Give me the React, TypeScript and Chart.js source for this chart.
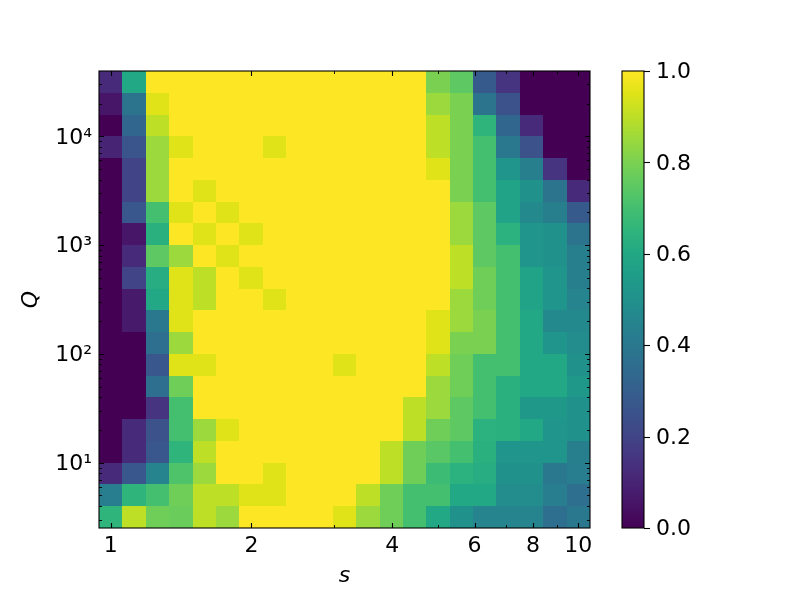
import React, { useEffect, useRef } from 'react';
import { Chart, registerables } from 'chart.js';

Chart.register(...registerables);

// s (x) cell centres, Q (y) cell centres
const sValues = [1.0, 1.122, 1.259, 1.413, 1.585, 1.778, 1.995, 2.239, 2.512, 2.818, 3.162, 3.548, 3.981, 4.467, 5.012, 5.623, 6.31, 7.079, 7.943, 8.913, 10.0];
const qValues = [3.162, 5.012, 7.943, 12.59, 19.95, 31.62, 50.12, 79.43, 125.9, 199.5, 316.2, 501.2, 794.3, 1259, 1995, 3162, 5012, 7943, 12589, 19953, 31623];

// fraction[k][i] : value at Q = qValues[k], s = sValues[i]
const fraction: number[][] = [
  [0.65, 0.9, 0.78, 0.77, 0.9, 0.85, 1, 1, 1, 1, 0.95, 0.85, 0.78, 0.7, 0.6, 0.5, 0.45, 0.45, 0.45, 0.36, 0.4],
  [0.42, 0.65, 0.7, 0.78, 0.9, 0.9, 0.95, 0.95, 1, 1, 1, 0.9, 0.78, 0.7, 0.7, 0.6, 0.6, 0.48, 0.48, 0.42, 0.36],
  [0.12, 0.27, 0.45, 0.72, 0.85, 1, 1, 0.95, 1, 1, 1, 1, 0.9, 0.78, 0.68, 0.64, 0.62, 0.5, 0.5, 0.4, 0.42],
  [0, 0.12, 0.27, 0.65, 0.9, 1, 1, 1, 1, 1, 1, 1, 0.9, 0.78, 0.74, 0.7, 0.63, 0.52, 0.52, 0.52, 0.43],
  [0, 0.12, 0.25, 0.7, 0.85, 0.95, 1, 1, 1, 1, 1, 1, 1, 0.9, 0.78, 0.75, 0.64, 0.63, 0.6, 0.52, 0.5],
  [0, 0, 0.15, 0.7, 1, 1, 1, 1, 1, 1, 1, 1, 1, 0.9, 0.85, 0.75, 0.7, 0.63, 0.53, 0.53, 0.5],
  [0, 0, 0.36, 0.78, 1, 1, 1, 1, 1, 1, 1, 1, 1, 1, 0.85, 0.78, 0.7, 0.63, 0.6, 0.6, 0.53],
  [0, 0, 0.27, 0.95, 0.95, 1, 1, 1, 1, 1, 0.95, 1, 1, 1, 0.9, 0.78, 0.7, 0.7, 0.6, 0.6, 0.5],
  [0, 0, 0.36, 0.85, 1, 1, 1, 1, 1, 1, 1, 1, 1, 1, 0.95, 0.8, 0.8, 0.7, 0.6, 0.52, 0.48],
  [0, 0.07, 0.4, 0.95, 1, 1, 1, 1, 1, 1, 1, 1, 1, 1, 0.95, 0.85, 0.8, 0.7, 0.6, 0.47, 0.47],
  [0, 0.07, 0.6, 0.95, 0.9, 1, 1, 0.95, 1, 1, 1, 1, 1, 1, 1, 0.85, 0.78, 0.7, 0.58, 0.52, 0.45],
  [0, 0.2, 0.62, 0.95, 0.9, 1, 0.95, 1, 1, 1, 1, 1, 1, 1, 1, 0.9, 0.78, 0.7, 0.58, 0.52, 0.43],
  [0, 0.12, 0.75, 0.85, 1, 0.95, 1, 1, 1, 1, 1, 1, 1, 1, 1, 0.9, 0.75, 0.7, 0.52, 0.5, 0.43],
  [0, 0.06, 0.63, 1, 0.95, 1, 0.95, 1, 1, 1, 1, 1, 1, 1, 1, 0.85, 0.75, 0.64, 0.52, 0.5, 0.38],
  [0, 0.27, 0.7, 0.95, 1, 0.95, 1, 1, 1, 1, 1, 1, 1, 1, 1, 0.85, 0.75, 0.58, 0.47, 0.43, 0.28],
  [0, 0.2, 0.85, 1, 0.95, 1, 1, 1, 1, 1, 1, 1, 1, 1, 1, 0.8, 0.7, 0.58, 0.5, 0.38, 0.12],
  [0, 0.2, 0.85, 1, 1, 1, 1, 1, 1, 1, 1, 1, 1, 1, 0.95, 0.8, 0.7, 0.52, 0.43, 0.15, 0],
  [0.1, 0.26, 0.85, 0.95, 1, 1, 1, 0.95, 1, 1, 1, 1, 1, 1, 0.9, 0.8, 0.7, 0.4, 0.25, 0, 0],
  [0, 0.33, 0.9, 1, 1, 1, 1, 1, 1, 1, 1, 1, 1, 1, 0.9, 0.8, 0.65, 0.33, 0.12, 0, 0],
  [0.06, 0.38, 0.95, 1, 1, 1, 1, 1, 1, 1, 1, 1, 1, 1, 0.85, 0.8, 0.38, 0.25, 0, 0, 0],
  [0.12, 0.6, 1, 1, 1, 1, 1, 1, 1, 1, 1, 1, 1, 1, 0.8, 0.75, 0.28, 0.15, 0, 0, 0],
];

const sTicks = [1, 2, 4, 6, 8, 10];
const sTickLabels = ['1', '2', '4', '6', '8', '10'];
const sMinorTicks = [3, 5, 7, 9];
const qTicks = [10, 100, 1000, 10000];
const qTickLabels = ['10¹', '10²', '10³', '10⁴'];
const qMinorTicks = [3, 4, 5, 6, 7, 8, 9, 20, 30, 40, 50, 60, 70, 80, 90, 200, 300, 400, 500, 600, 700, 800, 900, 2000, 3000, 4000, 5000, 6000, 7000, 8000, 9000, 20000, 30000];
const cbTicks = [0, 0.2, 0.4, 0.6, 0.8, 1.0];
const cbTickLabels = ['0.0', '0.2', '0.4', '0.6', '0.8', '1.0'];

const VIRIDIS = ['#440154', '#471365', '#482475', '#463480', '#414487', '#3b528b', '#355f8d', '#2f6c8e', '#2a788e', '#25848e', '#21918c', '#1e9c89', '#22a884', '#2fb47c', '#44bf70', '#5ec962', '#7ad151', '#9bd93c', '#bddf26', '#dfe318', '#fde725'];

function hexToRgb(h: string) {
  return [parseInt(h.slice(1, 3), 16), parseInt(h.slice(3, 5), 16), parseInt(h.slice(5, 7), 16)];
}
function viridis(t: number) {
  const v = Math.max(0, Math.min(1, t)) * (VIRIDIS.length - 1);
  const i = Math.min(Math.floor(v), VIRIDIS.length - 2);
  const f = v - i;
  const a = hexToRgb(VIRIDIS[i]);
  const b = hexToRgb(VIRIDIS[i + 1]);
  const c = a.map((x, j) => Math.round(x + (b[j] - x) * f));
  return `rgb(${c[0]},${c[1]},${c[2]})`;
}

function edges(v: number[]) {
  const e: number[] = [];
  const n = v.length;
  for (let i = 0; i <= n; i++) {
    if (i === 0) e.push((v[0] * v[0]) / Math.sqrt(v[0] * v[1]));
    else if (i === n) e.push((v[n - 1] * v[n - 1]) / Math.sqrt(v[n - 2] * v[n - 1]));
    else e.push(Math.sqrt(v[i - 1] * v[i]));
  }
  return e;
}

const FONT = "'DejaVu Sans', sans-serif";

const heatPlugin = {
  id: 'heat',
  beforeDatasetsDraw(chart: any) {
    const { ctx, scales } = chart;
    const x = scales.x;
    const y = scales.y;
    const data = chart.data.datasets[0].data as any[];
    ctx.save();
    for (const p of data) {
      const l = Math.round(x.getPixelForValue(p.x0));
      const r = Math.round(x.getPixelForValue(p.x1));
      const t = Math.round(y.getPixelForValue(p.y1));
      const b = Math.round(y.getPixelForValue(p.y0));
      ctx.fillStyle = viridis(p.v);
      ctx.fillRect(l, t, r - l, b - t);
    }
    ctx.restore();
  },
  afterDraw(chart: any) {
    const { ctx, chartArea: a, scales } = chart;
    const x = scales.x;
    const y = scales.y;
    ctx.save();
    ctx.strokeStyle = '#000';
    const vline = (v: number, len: number, w: number) => {
      const px = Math.round(x.getPixelForValue(v)) + 0.5;
      ctx.lineWidth = w;
      ctx.beginPath();
      ctx.moveTo(px, a.bottom);
      ctx.lineTo(px, a.bottom - len);
      ctx.moveTo(px, a.top);
      ctx.lineTo(px, a.top + len);
      ctx.stroke();
    };
    const hline = (v: number, len: number, w: number) => {
      const py = Math.round(y.getPixelForValue(v)) + 0.5;
      ctx.lineWidth = w;
      ctx.beginPath();
      ctx.moveTo(a.left, py);
      ctx.lineTo(a.left + len, py);
      ctx.moveTo(a.right, py);
      ctx.lineTo(a.right - len, py);
      ctx.stroke();
    };
    sTicks.forEach((v) => vline(v, 5, 1.1));
    sMinorTicks.forEach((v) => vline(v, 3, 0.9));
    qTicks.forEach((v) => hline(v, 5, 1.1));
    qMinorTicks.forEach((v) => hline(v, 3, 0.9));
    ctx.lineWidth = 1.1;
    ctx.strokeRect(a.left, a.top, a.right - a.left, a.bottom - a.top);
    ctx.restore();
  },
};

const colorbarPlugin = {
  id: 'colorbar',
  beforeDatasetsDraw(chart: any) {
    const { ctx, chartArea: a, scales } = chart;
    const y = scales.y;
    ctx.save();
    const g = ctx.createLinearGradient(0, a.bottom, 0, a.top);
    VIRIDIS.forEach((c, i) => g.addColorStop(i / (VIRIDIS.length - 1), c));
    ctx.fillStyle = g;
    ctx.fillRect(a.left, a.top, a.right - a.left, a.bottom - a.top);
    ctx.strokeStyle = '#000';
    ctx.lineWidth = 1.1;
    ctx.strokeRect(a.left, a.top, a.right - a.left, a.bottom - a.top);
    cbTicks.forEach((v) => {
      const py = Math.round(y.getPixelForValue(v)) + 0.5;
      ctx.beginPath();
      ctx.moveTo(a.right, py);
      ctx.lineTo(a.right + 6, py);
      ctx.stroke();
    });
    ctx.restore();
  },
};

export default function App() {
  const mainRef = useRef<HTMLCanvasElement>(null);
  const cbRef = useRef<HTMLCanvasElement>(null);

  useEffect(() => {
    Chart.defaults.font.family = FONT;
    Chart.defaults.color = '#000';

    const sEdges = edges(sValues);
    const qEdges = edges(qValues);
    const cells: any[] = [];
    for (let k = 0; k < qValues.length; k++) {
      for (let i = 0; i < sValues.length; i++) {
        cells.push({
          x: sValues[i],
          y: qValues[k],
          v: fraction[k][i],
          x0: sEdges[i],
          x1: sEdges[i + 1],
          y0: qEdges[k],
          y1: qEdges[k + 1],
        });
      }
    }

    const main = new Chart(mainRef.current as HTMLCanvasElement, {
      type: 'scatter',
      data: { datasets: [{ data: cells, pointRadius: 0, pointHoverRadius: 0 }] },
      options: {
        animation: false,
        responsive: false,
        devicePixelRatio: 1,
        events: [],
        layout: { padding: { left: 0, top: 71, right: 203, bottom: 0 } },
        plugins: { legend: { display: false }, tooltip: { enabled: false } },
        scales: {
          x: {
            type: 'logarithmic',
            min: sEdges[0],
            max: sEdges[sEdges.length - 1],
            bounds: 'data',
            grid: { display: false, drawTicks: false },
            border: { display: false },
            afterBuildTicks: (s: any) => {
              s.ticks = sTicks.map((v) => ({ value: v }));
            },
            afterFit: (s: any) => {
              s.height = 66;
              s.paddingLeft = 0;
              s.paddingRight = 0;
            },
            ticks: {
              autoSkip: false,
              maxRotation: 0,
              minRotation: 0,
              padding: 5,
              major: { enabled: false },
              font: { size: 22, family: FONT },
              color: '#000',
              callback: (_v: any, i: number) => sTickLabels[i],
            },
            title: { display: true, text: 's', color: '#000', font: { size: 22, style: 'italic', family: FONT }, padding: { top: 0, bottom: 5 } },
          },
          y: {
            type: 'logarithmic',
            min: qEdges[0],
            max: qEdges[qEdges.length - 1],
            bounds: 'data',
            grid: { display: false, drawTicks: false },
            border: { display: false },
            afterBuildTicks: (s: any) => {
              s.ticks = qTicks.map((v) => ({ value: v }));
            },
            afterFit: (s: any) => {
              s.width = 99;
              s.paddingTop = 0;
              s.paddingBottom = 0;
            },
            ticks: {
              autoSkip: false,
              padding: 7,
              labelOffset: 1.5,
              major: { enabled: false },
              font: { size: 22, family: FONT },
              color: '#000',
              callback: (_v: any, i: number) => qTickLabels[i],
            },
            title: { display: true, text: 'Q', color: '#000', font: { size: 22, style: 'italic', family: FONT }, padding: { top: 18, bottom: 0 } },
          },
        },
      } as any,
      plugins: [heatPlugin],
    });

    const cb = new Chart(cbRef.current as HTMLCanvasElement, {
      type: 'scatter',
      data: { datasets: [{ data: [], pointRadius: 0 }] },
      options: {
        animation: false,
        responsive: false,
        devicePixelRatio: 1,
        events: [],
        layout: { padding: { left: 22, top: 71, right: 0, bottom: 66 } },
        plugins: { legend: { display: false }, tooltip: { enabled: false } },
        scales: {
          x: { type: 'linear', display: false, min: 0, max: 1 },
          y: {
            type: 'linear',
            position: 'right',
            min: 0,
            max: 1,
            grid: { display: false, drawTicks: false },
            border: { display: false },
            afterBuildTicks: (s: any) => {
              s.ticks = cbTicks.map((v) => ({ value: v }));
            },
            afterFit: (s: any) => {
              s.width = 149;
              s.paddingTop = 0;
              s.paddingBottom = 0;
            },
            ticks: {
              autoSkip: false,
              padding: 12,
              labelOffset: 1.5,
              font: { size: 22, family: FONT },
              color: '#000',
              callback: (_v: any, i: number) => cbTickLabels[i],
            },
          },
        },
      } as any,
      plugins: [colorbarPlugin],
    });

    return () => {
      main.destroy();
      cb.destroy();
    };
  }, []);

  return (
    <div style={{ position: 'absolute', left: 0, top: 0, width: 793, height: 594, background: '#fff' }}>
      <canvas ref={mainRef} width={793} height={594} style={{ position: 'absolute', left: 0, top: 0, width: 793, height: 594 }} />
      <canvas ref={cbRef} width={193} height={594} style={{ position: 'absolute', left: 600, top: 0, width: 193, height: 594 }} />
    </div>
  );
}
